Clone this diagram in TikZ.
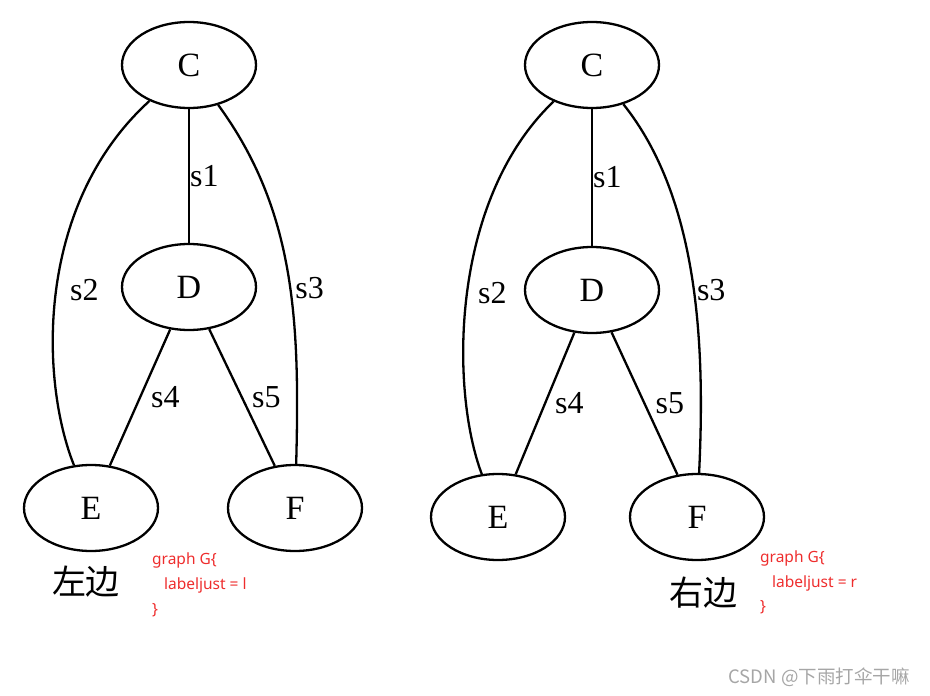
\documentclass[tikz,border=0pt]{standalone}
\usepackage{fontspec}
\setmainfont{Liberation Serif}
\newfontfamily\cjk{Noto Sans CJK SC}
\newfontfamily\notefont{Noto Sans}
\usetikzlibrary{shapes.geometric}
\definecolor{notered}{RGB}{238,45,45}

\begin{document}
\begin{tikzpicture}[x=1pt,y=-1pt,line width=2.3pt,
    vertex/.style={draw,ellipse,minimum width=134pt,minimum height=86pt,inner sep=0pt,font=\fontsize{34}{34}\selectfont},
    lbl/.style={anchor=west,inner sep=0pt,font=\fontsize{32}{32}\selectfont},
    note/.style={anchor=west,inner sep=0pt,text=notered,font=\notefont\fontsize{15.5}{16}\selectfont}]
    \useasboundingbox (0,0) rectangle (930,696);

    % left: labeljust = l
    \node[vertex] (cL) at (189,65) {C};
    \node[vertex] (dL) at (189,287) {D};
    \node[vertex] (eL) at (91,508) {E};
    \node[vertex] (fL) at (295,508) {F};

    \draw (cL) -- (dL) node[lbl,pos=0.5,xshift=0pt] {s1};
    \draw (cL) .. controls (35,205) and (40,380) .. (eL) node[lbl,pos=0.5,xshift=13pt] {s2};
    \draw (cL) .. controls (295,210) and (300,320) .. (fL) node[lbl,pos=0.55,xshift=4pt] {s3};
    \draw (dL) -- (eL) node[lbl,pos=0.5,xshift=10pt] {s4};
    \draw (dL) -- (fL) node[lbl,pos=0.5,xshift=9pt] {s5};

    \node[font=\cjk\fontsize{34}{34}\selectfont] (tagL) at (86,582) {左边};
    \node[note] (codeL1) at (151,560) {graph G\{};
    \node[note] (codeL2) at (163,585) {labeljust = l};
    \node[note] (codeL3) at (151,610) {\}};

    % right: labeljust = r
    \node[vertex] (cR) at (592,65) {C};
    \node[vertex] (dR) at (592,290) {D};
    \node[vertex] (eR) at (498,517) {E};
    \node[vertex] (fR) at (697,517) {F};

    \draw (cR) -- (dR) node[lbl,pos=0.5,xshift=0pt] {s1};
    \draw (cR) .. controls (450,200) and (450,390) .. (eR) node[lbl,pos=0.5,xshift=10pt] {s2};
    \draw (cR) .. controls (700,200) and (705,350) .. (fR) node[lbl,pos=0.53,xshift=2pt] {s3};
    \draw (dR) -- (eR) node[lbl,pos=0.5,xshift=9pt] {s4};
    \draw (dR) -- (fR) node[lbl,pos=0.5,xshift=10pt] {s5};

    \node[font=\cjk\fontsize{34}{34}\selectfont] (tagR) at (703,593) {右边};
    \node[note] (codeR1) at (759,558) {graph G\{};
    \node[note] (codeR2) at (771,583) {labeljust = r};
    \node[note] (codeR3) at (759,607) {\}};

    \node[text=gray!70,font=\cjk\fontsize{18.5}{19}\selectfont] (mark) at (819,677) {CSDN @下雨打伞干嘛};
\end{tikzpicture}
\end{document}
